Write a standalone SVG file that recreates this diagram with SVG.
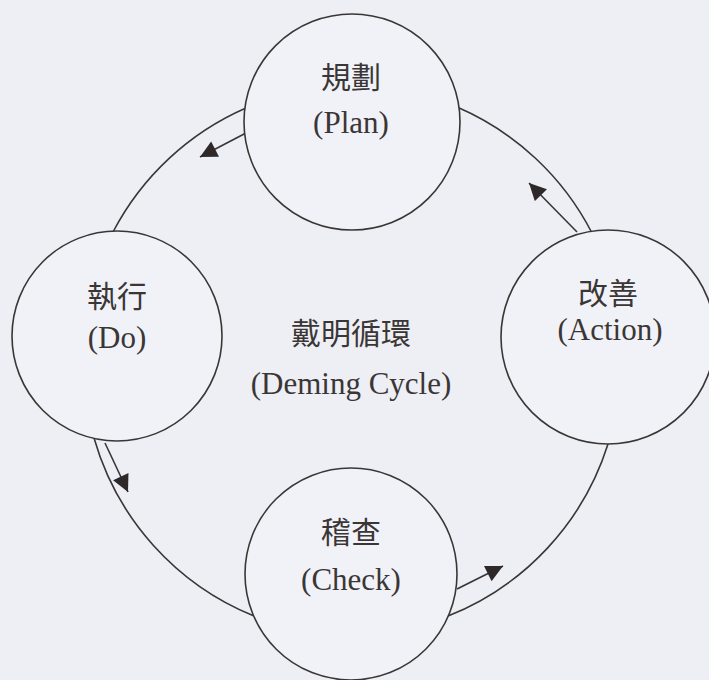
<svg xmlns="http://www.w3.org/2000/svg" width="709" height="680" viewBox="0 0 709 680">
<defs>
<style>
.bg{fill:#edeff5}
.node{fill:#f0f2f7;stroke:#3b3636;stroke-width:1.6}
.arc{fill:none;stroke:#3b3636;stroke-width:1.6}
.arr{fill:none;stroke:#3b3636;stroke-width:1.6}
.zh{font-family:"Liberation Serif","Noto Sans CJK TC",serif;font-size:30px;fill:#3b3636;text-anchor:middle}
.en{font-family:"Liberation Serif",serif;font-size:31px;fill:#3b3636;text-anchor:middle}
</style>
<marker id="ah" viewBox="0 0 10 10" refX="10" refY="5" markerUnits="userSpaceOnUse" markerWidth="18" markerHeight="17" orient="auto">
<path d="M0,0 L10,5 L0,10 z" fill="#2e2828"/>
</marker>
</defs>
<rect class="bg" x="0" y="0" width="709" height="680"/>
<g id="connectors">
<path class="arc" d="M246,108 A273,273 0 0 0 113,232"/>
<path class="arc" d="M457,107 A273,273 0 0 1 592,233"/>
<path class="arc" d="M608,444 A273,273 0 0 1 448,616"/>
<path class="arc" d="M254,616 A273,273 0 0 1 94,438"/>
<line class="arr" x1="246" y1="133" x2="200" y2="157" marker-end="url(#ah)"/>
<line class="arr" x1="577" y1="232" x2="529" y2="183" marker-end="url(#ah)"/>
<line class="arr" x1="457" y1="589" x2="503" y2="566" marker-end="url(#ah)"/>
<line class="arr" x1="105" y1="443" x2="128" y2="492" marker-end="url(#ah)"/>
</g>
<g id="plan">
<circle class="node" cx="352" cy="122" r="108"/>
<text class="zh" x="351" y="88">規劃</text>
<text class="en" x="351" y="133">(Plan)</text>
</g>
<g id="do">
<circle class="node" cx="117" cy="336" r="105"/>
<text class="zh" x="117" y="307">執行</text>
<text class="en" x="117" y="348">(Do)</text>
</g>
<g id="action">
<circle class="node" cx="608" cy="337" r="107"/>
<text class="zh" x="608" y="304">改善</text>
<text class="en" x="610" y="340">(Action)</text>
</g>
<g id="check">
<circle class="node" cx="351" cy="574" r="106"/>
<text class="zh" x="351" y="543">稽查</text>
<text class="en" x="351" y="590">(Check)</text>
</g>
<g id="center">
<text class="zh" x="351" y="344">戴明循環</text>
<text class="en" x="351" y="394">(Deming Cycle)</text>
</g>
</svg>
